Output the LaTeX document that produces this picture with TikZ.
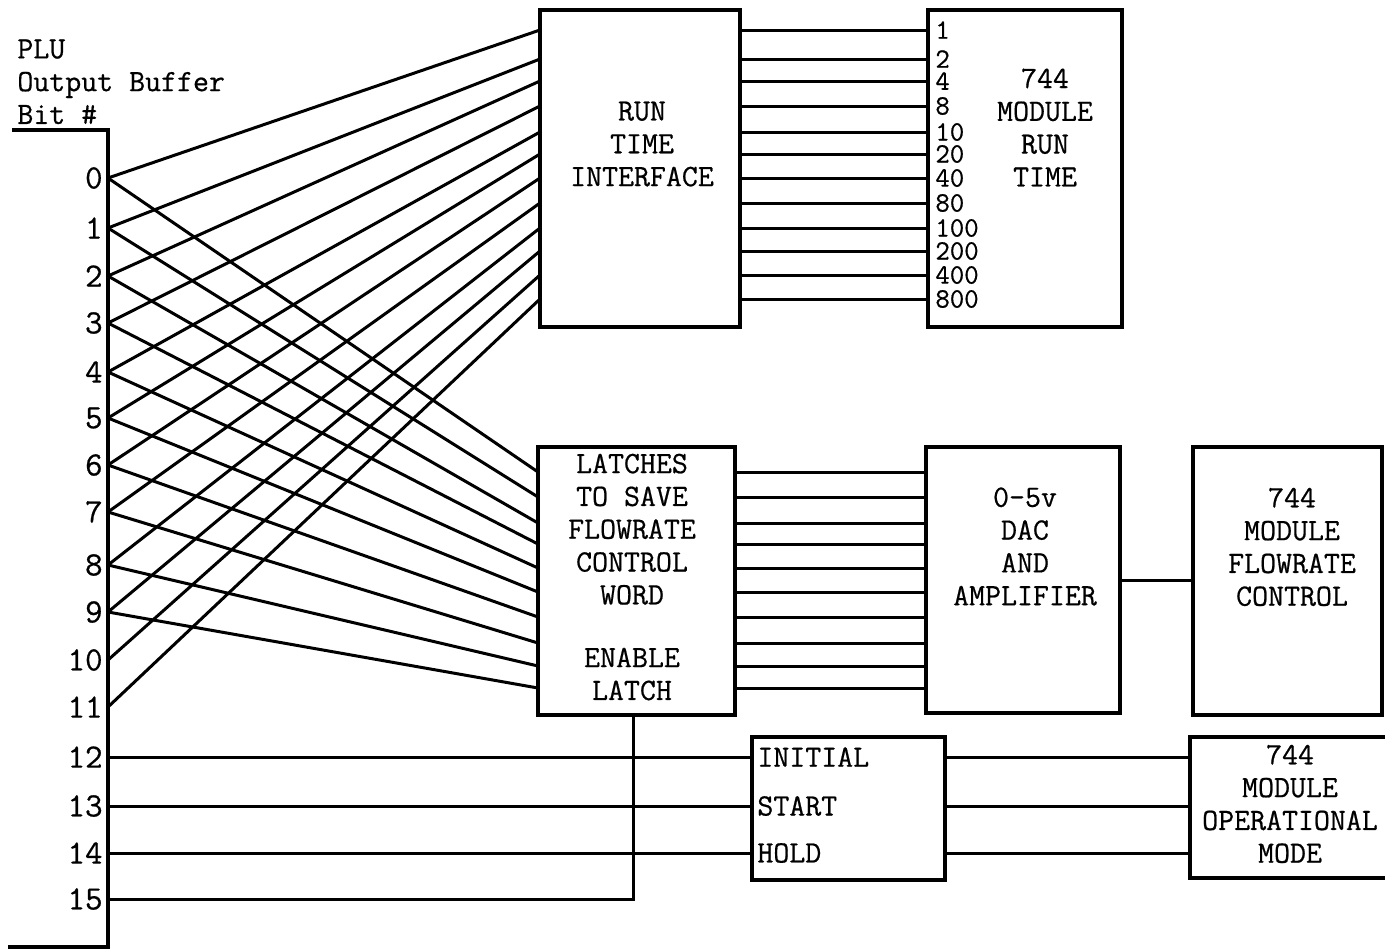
\documentclass[tikz,border=0pt]{standalone}
\usepackage{fontspec}
\newfontfamily\twfont{Latin Modern Mono}[FakeBold=0.6]
\begin{document}
\begin{tikzpicture}[x=0.5pt,y=-0.5pt,
  blk/.style={draw, line width=1.8pt, outer sep=0pt, inner sep=0pt},
  wire/.style={line width=1.5pt},
  bus/.style={line width=2.2pt},
  txt/.style={font=\twfont\fontsize{15.5}{16.4}\selectfont, align=center, inner sep=0pt},
  bitno/.style={txt, font=\twfont\fontsize{17}{18}\selectfont, anchor=east},
  wt/.style={txt, font=\twfont\fontsize{14}{15}\selectfont, anchor=west}]
\useasboundingbox (0,0) rectangle (1385,949);

% heading and bus bar
\node[txt, align=left, anchor=north west] (head) at (17,39) {PLU\\Output Buffer\\Bit \#};
\draw[bus] (12,130) -| (108,949);
\draw[bus] (8,947) -- (108,947);

\foreach \i/\y in {0/178,1/228,2/276,3/323,4/372,5/418,6/465,7/512,8/565,9/612,10/660,11/707,12/757,13/806,14/853,15/899}{
  \node[bitno] (n\i) at (103,\y) {\i};
  \coordinate (b\i) at (108,\y);
}

% boxes
\node[blk, minimum width=100pt, minimum height=158.5pt] (rti) at (640,168.5) {};
\node[blk, minimum width=97pt, minimum height=158.5pt] (mrt) at (1025,168.5) {};
\node[blk, minimum width=98.5pt, minimum height=134pt] (lat) at (636.5,581) {};
\node[blk, minimum width=97pt, minimum height=133pt] (dac) at (1023,580) {};
\node[blk, minimum width=94.5pt, minimum height=134pt] (mfc) at (1287.5,581) {};
\node[blk, minimum width=96.5pt, minimum height=71.5pt] (ish) at (848.5,808.5) {};
\node[blk, minimum width=101pt, minimum height=70.5pt] (mom) at (1291,807.5) {};

\node[txt] (rtit) at (642,144) {RUN\\TIME\\INTERFACE};
\node[txt] (mrtt) at (1045,127.5) {744\\MODULE\\RUN\\TIME};
\node[txt] (latt) at (632,577) {LATCHES\\TO SAVE\\FLOWRATE\\CONTROL\\WORD\\[15pt]ENABLE\\LATCH};
\node[txt] (dact) at (1025,546.5) {0-5v\\DAC\\AND\\AMPLIFIER};
\node[txt] (mfct) at (1292,547) {744\\MODULE\\FLOWRATE\\CONTROL};
\node[txt] (momt) at (1290,804) {744\\MODULE\\OPERATIONAL\\MODE};

% run time word
\foreach \i/\y/\w in {0/30/1,1/59/2,2/81/4,3/106/8,4/132/10,5/154/20,6/178/40,7/203/80,8/228/100,9/251/200,10/275/400,11/299/800}{
  \coordinate (ri\i) at (540,\y);
  \coordinate (ro\i) at (740,\y);
  \coordinate (mi\i) at (928,\y);
  \draw[wire] (b\i) -- (ri\i);
  \draw[wire] (ro\i) -- (mi\i);
  \node[wt] (w\i) at (935,\y) {\w};
}

% flowrate word
\foreach \i/\y in {0/472,1/497,2/523,3/544,4/568,5/592,6/617,7/643,8/666,9/688}{
  \coordinate (li\i) at (538,\y);
  \coordinate (lo\i) at (735,\y);
  \coordinate (di\i) at (926,\y);
  \draw[wire] (b\i) -- (li\i);
  \draw[wire] (lo\i) -- (di\i);
}
\draw[wire] (dac.east) -- (dac.east -| mfc.west);

% operational mode
\foreach \i/\y/\t in {12/757/INITIAL,13/806/START,14/853/HOLD}{
  \node[wt, font=\twfont\fontsize{15.5}{16.4}\selectfont] (s\i) at (757,\y) {\t};
  \draw[wire] (b\i) -- (s\i.west -| ish.west);
  \draw[wire] (s\i.west -| ish.east) -- (s\i.west -| mom.west);
}

% enable latch
\coordinate (en) at (633,715);
\draw[wire] (b15) -| (en);
\end{tikzpicture}
\end{document}
